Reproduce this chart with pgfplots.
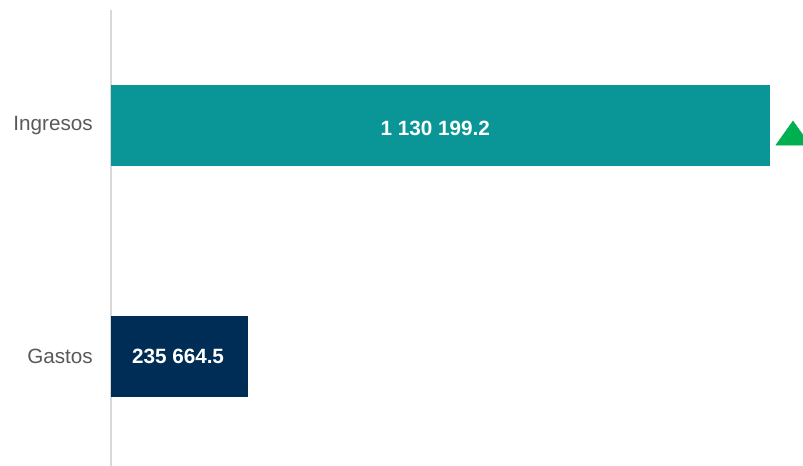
\documentclass[border=0pt]{standalone}
\usepackage{pgfplots}
\pgfplotsset{compat=1.18}
\usepackage{fontspec}
\setmainfont{Liberation Sans}
\definecolor{tealbar}{HTML}{0A9696}
\definecolor{navybar}{HTML}{002D55}
\definecolor{greentri}{HTML}{00B050}
\definecolor{labgray}{HTML}{595959}
\definecolor{axgray}{HTML}{D9D9D9}
\begin{document}
\begin{tikzpicture}
\begin{axis}[
  at={(0pt,0pt)}, anchor=south west,
  scale only axis,
  width=519pt, height=342pt,
  xmin=0, xmax=1186794,
  ymin=-0.473, ymax=1.497,
  axis x line=none,
  axis y line*=left,
  y axis line style={draw=axgray, line width=1.5pt, -},
  ytick={0,1},
  yticklabels={Gastos,Ingresos},
  major tick length=0pt,
  yticklabel style={font=\fontsize{15.5}{18}\selectfont, text=labgray, inner sep=0pt},
  yticklabel shift=13.5pt,
  clip=true,
  clip marker paths=true,
]
\addplot[xbar, bar shift=0pt, bar width=60.75pt, fill=tealbar, draw=none] coordinates {(1130199.2,1)};
\addplot[xbar, bar shift=0pt, bar width=60.75pt, fill=navybar, draw=none] coordinates {(235664.5,0)};
\addplot[draw=none, mark=none, nodes near coords, point meta=explicit symbolic,
  every node near coord/.style={anchor=center, font=\fontsize{15.5}{18}\selectfont\bfseries, text=white}]
  coordinates {(556000,0.985) [1 130 199.2] (115000,0) [235 664.5]};
\addplot[only marks, mark=triangle*, mark size=12pt, color=greentri,
  mark options={xscale=1.23, draw=none, fill=greentri}] coordinates {(1169636,0.948)};
\end{axis}
\pgfresetboundingbox
\useasboundingbox (-83.25pt,0pt) rectangle (519pt,349.5pt);
\end{tikzpicture}
\end{document}
